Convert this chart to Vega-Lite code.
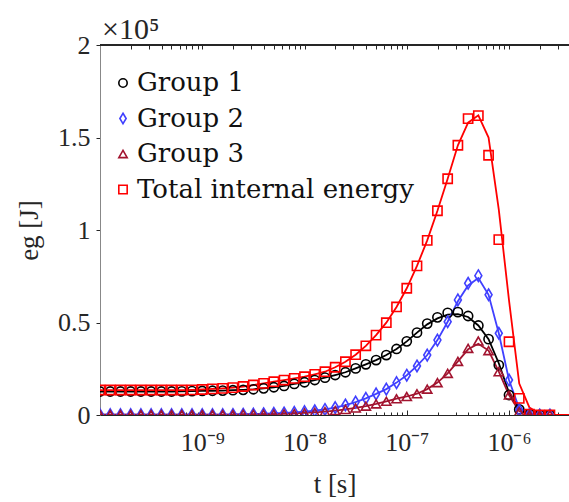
{
  "$schema": "https://vega.github.io/schema/vega-lite/v6.json",
  "width": 469,
  "height": 370,
  "autosize": {"type": "none"},
  "padding": {"left": 100, "top": 45, "right": 0, "bottom": 87},
  "background": "white",
  "title": {"text": "×10⁵", "anchor": "start", "frame": "group", "fontSize": 30, "font": "Liberation Serif", "fontWeight": "normal", "offset": -13, "dx": 2, "color": "#262626"},
  "config": {
    "view": {"stroke": null},
    "font": "Liberation Serif",
    "axis": {"grid": false, "labelFont": "Liberation Serif", "titleFont": "Liberation Serif", "labelFontSize": 26, "titleFontSize": 27, "titleFontWeight": "normal", "labelColor": "#262626", "titleColor": "#262626", "tickColor": "#262626", "domainColor": "#262626"}
  },
  "datasets": {
    "series": [
      {"t":1e-10,"g":"Group 1","m":12700,"l":12700},
      {"t":1.259e-10,"g":"Group 1","m":12700,"l":12700},
      {"t":1.585e-10,"g":"Group 1","m":12700,"l":12700},
      {"t":1.995e-10,"g":"Group 1","m":12700,"l":12700},
      {"t":2.512e-10,"g":"Group 1","m":12700,"l":12700},
      {"t":3.162e-10,"g":"Group 1","m":12700,"l":12700},
      {"t":3.981e-10,"g":"Group 1","m":12700,"l":12700},
      {"t":5.012e-10,"g":"Group 1","m":12700,"l":12700},
      {"t":6.31e-10,"g":"Group 1","m":12800,"l":12800},
      {"t":7.943e-10,"g":"Group 1","m":12900,"l":12900},
      {"t":1e-9,"g":"Group 1","m":13000,"l":13000},
      {"t":1.259e-9,"g":"Group 1","m":13100,"l":13100},
      {"t":1.585e-9,"g":"Group 1","m":13200,"l":13200},
      {"t":1.995e-9,"g":"Group 1","m":13400,"l":13400},
      {"t":2.512e-9,"g":"Group 1","m":13600,"l":13600},
      {"t":3.162e-9,"g":"Group 1","m":13900,"l":13900},
      {"t":3.981e-9,"g":"Group 1","m":14400,"l":14400},
      {"t":5.012e-9,"g":"Group 1","m":15000,"l":15000},
      {"t":6.31e-9,"g":"Group 1","m":15700,"l":15700},
      {"t":7.943e-9,"g":"Group 1","m":16800,"l":16800},
      {"t":1e-8,"g":"Group 1","m":17700,"l":17700},
      {"t":1.259e-8,"g":"Group 1","m":18900,"l":18900},
      {"t":1.585e-8,"g":"Group 1","m":20200,"l":20200},
      {"t":1.995e-8,"g":"Group 1","m":21600,"l":21600},
      {"t":2.512e-8,"g":"Group 1","m":23100,"l":23100},
      {"t":3.162e-8,"g":"Group 1","m":25200,"l":25200},
      {"t":3.981e-8,"g":"Group 1","m":27400,"l":27400},
      {"t":5.012e-8,"g":"Group 1","m":29700,"l":29700},
      {"t":6.31e-8,"g":"Group 1","m":32400,"l":32400},
      {"t":7.943e-8,"g":"Group 1","m":35700,"l":35700},
      {"t":1e-7,"g":"Group 1","m":39800,"l":39800},
      {"t":1.259e-7,"g":"Group 1","m":44500,"l":44500},
      {"t":1.585e-7,"g":"Group 1","m":49400,"l":49000},
      {"t":1.995e-7,"g":"Group 1","m":52800,"l":52200},
      {"t":2.512e-7,"g":"Group 1","m":55200,"l":54300},
      {"t":3.162e-7,"g":"Group 1","m":55600,"l":54500},
      {"t":3.981e-7,"g":"Group 1","m":53500,"l":53000},
      {"t":5.012e-7,"g":"Group 1","m":48400,"l":48400},
      {"t":6.31e-7,"g":"Group 1","m":41000,"l":41000},
      {"t":7.943e-7,"g":"Group 1","m":27000,"l":28000},
      {"t":1e-6,"g":"Group 1","m":10800,"l":12000},
      {"t":1.259e-6,"g":"Group 1","m":3000,"l":3500},
      {"t":1.585e-6,"g":"Group 1","m":500,"l":600},
      {"t":1.995e-6,"g":"Group 1","m":100,"l":100},
      {"t":2.512e-6,"g":"Group 1","m":0,"l":0},
      {"t":3.86e-6,"g":"Group 1","m":null,"l":0},

      {"t":1e-10,"g":"Group 2","m":200,"l":200},
      {"t":1.259e-10,"g":"Group 2","m":200,"l":200},
      {"t":1.585e-10,"g":"Group 2","m":200,"l":200},
      {"t":1.995e-10,"g":"Group 2","m":200,"l":200},
      {"t":2.512e-10,"g":"Group 2","m":200,"l":200},
      {"t":3.162e-10,"g":"Group 2","m":200,"l":200},
      {"t":3.981e-10,"g":"Group 2","m":200,"l":200},
      {"t":5.012e-10,"g":"Group 2","m":200,"l":200},
      {"t":6.31e-10,"g":"Group 2","m":200,"l":200},
      {"t":7.943e-10,"g":"Group 2","m":200,"l":200},
      {"t":1e-9,"g":"Group 2","m":200,"l":200},
      {"t":1.259e-9,"g":"Group 2","m":200,"l":200},
      {"t":1.585e-9,"g":"Group 2","m":200,"l":200},
      {"t":1.995e-9,"g":"Group 2","m":300,"l":300},
      {"t":2.512e-9,"g":"Group 2","m":400,"l":400},
      {"t":3.162e-9,"g":"Group 2","m":500,"l":500},
      {"t":3.981e-9,"g":"Group 2","m":700,"l":700},
      {"t":5.012e-9,"g":"Group 2","m":900,"l":900},
      {"t":6.31e-9,"g":"Group 2","m":1100,"l":1100},
      {"t":7.943e-9,"g":"Group 2","m":1400,"l":1400},
      {"t":1e-8,"g":"Group 2","m":1800,"l":1800},
      {"t":1.259e-8,"g":"Group 2","m":2300,"l":2300},
      {"t":1.585e-8,"g":"Group 2","m":3000,"l":3000},
      {"t":1.995e-8,"g":"Group 2","m":4000,"l":4000},
      {"t":2.512e-8,"g":"Group 2","m":5400,"l":5400},
      {"t":3.162e-8,"g":"Group 2","m":7000,"l":7000},
      {"t":3.981e-8,"g":"Group 2","m":9000,"l":9000},
      {"t":5.012e-8,"g":"Group 2","m":11400,"l":11400},
      {"t":6.31e-8,"g":"Group 2","m":14000,"l":14000},
      {"t":7.943e-8,"g":"Group 2","m":17500,"l":17500},
      {"t":1e-7,"g":"Group 2","m":21500,"l":21500},
      {"t":1.259e-7,"g":"Group 2","m":26500,"l":26500},
      {"t":1.585e-7,"g":"Group 2","m":32400,"l":32400},
      {"t":1.995e-7,"g":"Group 2","m":40500,"l":40500},
      {"t":2.512e-7,"g":"Group 2","m":50400,"l":50400},
      {"t":3.162e-7,"g":"Group 2","m":62200,"l":61500},
      {"t":3.981e-7,"g":"Group 2","m":71200,"l":70000},
      {"t":5.012e-7,"g":"Group 2","m":75300,"l":74000},
      {"t":6.31e-7,"g":"Group 2","m":65000,"l":65000},
      {"t":7.943e-7,"g":"Group 2","m":44200,"l":44200},
      {"t":1e-6,"g":"Group 2","m":18900,"l":18900},
      {"t":1.259e-6,"g":"Group 2","m":2700,"l":3500},
      {"t":1.585e-6,"g":"Group 2","m":300,"l":500},
      {"t":1.995e-6,"g":"Group 2","m":0,"l":0},
      {"t":2.512e-6,"g":"Group 2","m":0,"l":0},
      {"t":3.86e-6,"g":"Group 2","m":null,"l":0},

      {"t":1e-10,"g":"Group 3","m":200,"l":200},
      {"t":1.259e-10,"g":"Group 3","m":200,"l":200},
      {"t":1.585e-10,"g":"Group 3","m":200,"l":200},
      {"t":1.995e-10,"g":"Group 3","m":200,"l":200},
      {"t":2.512e-10,"g":"Group 3","m":200,"l":200},
      {"t":3.162e-10,"g":"Group 3","m":200,"l":200},
      {"t":3.981e-10,"g":"Group 3","m":200,"l":200},
      {"t":5.012e-10,"g":"Group 3","m":200,"l":200},
      {"t":6.31e-10,"g":"Group 3","m":200,"l":200},
      {"t":7.943e-10,"g":"Group 3","m":200,"l":200},
      {"t":1e-9,"g":"Group 3","m":200,"l":200},
      {"t":1.259e-9,"g":"Group 3","m":200,"l":200},
      {"t":1.585e-9,"g":"Group 3","m":200,"l":200},
      {"t":1.995e-9,"g":"Group 3","m":200,"l":200},
      {"t":2.512e-9,"g":"Group 3","m":300,"l":300},
      {"t":3.162e-9,"g":"Group 3","m":300,"l":300},
      {"t":3.981e-9,"g":"Group 3","m":400,"l":400},
      {"t":5.012e-9,"g":"Group 3","m":500,"l":500},
      {"t":6.31e-9,"g":"Group 3","m":600,"l":600},
      {"t":7.943e-9,"g":"Group 3","m":800,"l":800},
      {"t":1e-8,"g":"Group 3","m":1100,"l":1100},
      {"t":1.259e-8,"g":"Group 3","m":1400,"l":1400},
      {"t":1.585e-8,"g":"Group 3","m":1800,"l":1800},
      {"t":1.995e-8,"g":"Group 3","m":2400,"l":2400},
      {"t":2.512e-8,"g":"Group 3","m":3000,"l":3000},
      {"t":3.162e-8,"g":"Group 3","m":3800,"l":3800},
      {"t":3.981e-8,"g":"Group 3","m":4800,"l":4800},
      {"t":5.012e-8,"g":"Group 3","m":6000,"l":6000},
      {"t":6.31e-8,"g":"Group 3","m":7400,"l":7400},
      {"t":7.943e-8,"g":"Group 3","m":8800,"l":8800},
      {"t":1e-7,"g":"Group 3","m":10000,"l":10000},
      {"t":1.259e-7,"g":"Group 3","m":11500,"l":11500},
      {"t":1.585e-7,"g":"Group 3","m":14000,"l":14000},
      {"t":1.995e-7,"g":"Group 3","m":17500,"l":17500},
      {"t":2.512e-7,"g":"Group 3","m":22500,"l":22500},
      {"t":3.162e-7,"g":"Group 3","m":29000,"l":29000},
      {"t":3.981e-7,"g":"Group 3","m":36000,"l":35500},
      {"t":5.012e-7,"g":"Group 3","m":40000,"l":38500},
      {"t":6.31e-7,"g":"Group 3","m":34800,"l":34800},
      {"t":7.943e-7,"g":"Group 3","m":23400,"l":23400},
      {"t":1e-6,"g":"Group 3","m":10800,"l":10800},
      {"t":1.259e-6,"g":"Group 3","m":1800,"l":2000},
      {"t":1.585e-6,"g":"Group 3","m":200,"l":300},
      {"t":1.995e-6,"g":"Group 3","m":0,"l":0},
      {"t":2.512e-6,"g":"Group 3","m":0,"l":0},
      {"t":3.86e-6,"g":"Group 3","m":null,"l":0},

      {"t":1e-10,"g":"Total internal energy","m":13500,"l":13500},
      {"t":1.259e-10,"g":"Total internal energy","m":13500,"l":13500},
      {"t":1.585e-10,"g":"Total internal energy","m":13500,"l":13500},
      {"t":1.995e-10,"g":"Total internal energy","m":13500,"l":13500},
      {"t":2.512e-10,"g":"Total internal energy","m":13500,"l":13500},
      {"t":3.162e-10,"g":"Total internal energy","m":13500,"l":13500},
      {"t":3.981e-10,"g":"Total internal energy","m":13500,"l":13500},
      {"t":5.012e-10,"g":"Total internal energy","m":13500,"l":13500},
      {"t":6.31e-10,"g":"Total internal energy","m":13500,"l":13500},
      {"t":7.943e-10,"g":"Total internal energy","m":13600,"l":13600},
      {"t":1e-9,"g":"Total internal energy","m":13800,"l":13800},
      {"t":1.259e-9,"g":"Total internal energy","m":14100,"l":14100},
      {"t":1.585e-9,"g":"Total internal energy","m":14400,"l":14400},
      {"t":1.995e-9,"g":"Total internal energy","m":14800,"l":14800},
      {"t":2.512e-9,"g":"Total internal energy","m":15400,"l":15400},
      {"t":3.162e-9,"g":"Total internal energy","m":16200,"l":16200},
      {"t":3.981e-9,"g":"Total internal energy","m":17100,"l":17100},
      {"t":5.012e-9,"g":"Total internal energy","m":18000,"l":18000},
      {"t":6.31e-9,"g":"Total internal energy","m":18900,"l":18900},
      {"t":7.943e-9,"g":"Total internal energy","m":19800,"l":19800},
      {"t":1e-8,"g":"Total internal energy","m":20700,"l":20700},
      {"t":1.259e-8,"g":"Total internal energy","m":22000,"l":22000},
      {"t":1.585e-8,"g":"Total internal energy","m":23400,"l":23400},
      {"t":1.995e-8,"g":"Total internal energy","m":25800,"l":25800},
      {"t":2.512e-8,"g":"Total internal energy","m":28800,"l":28800},
      {"t":3.162e-8,"g":"Total internal energy","m":32600,"l":32600},
      {"t":3.981e-8,"g":"Total internal energy","m":37400,"l":37400},
      {"t":5.012e-8,"g":"Total internal energy","m":43200,"l":43200},
      {"t":6.31e-8,"g":"Total internal energy","m":49900,"l":49900},
      {"t":7.943e-8,"g":"Total internal energy","m":58400,"l":58400},
      {"t":1e-7,"g":"Total internal energy","m":68500,"l":68500},
      {"t":1.259e-7,"g":"Total internal energy","m":80600,"l":80600},
      {"t":1.585e-7,"g":"Total internal energy","m":94400,"l":94400},
      {"t":1.995e-7,"g":"Total internal energy","m":110400,"l":110400},
      {"t":2.512e-7,"g":"Total internal energy","m":127700,"l":127700},
      {"t":3.162e-7,"g":"Total internal energy","m":145800,"l":145800},
      {"t":3.981e-7,"g":"Total internal energy","m":160200,"l":158000},
      {"t":5.012e-7,"g":"Total internal energy","m":161800,"l":162000},
      {"t":6.31e-7,"g":"Total internal energy","m":140400,"l":150000},
      {"t":7.943e-7,"g":"Total internal energy","m":94800,"l":111000},
      {"t":1e-6,"g":"Total internal energy","m":39600,"l":62000},
      {"t":1.259e-6,"g":"Total internal energy","m":9000,"l":17000},
      {"t":1.585e-6,"g":"Total internal energy","m":500,"l":4000},
      {"t":1.995e-6,"g":"Total internal energy","m":0,"l":500},
      {"t":2.512e-6,"g":"Total internal energy","m":0,"l":0},
      {"t":3.86e-6,"g":"Total internal energy","m":null,"l":0}
    ]
  },
  "data": {"name": "series"},
  "resolve": {"scale": {"x": "independent"}, "axis": {"x": "independent", "y": "independent"}, "legend": {"color": "independent", "shape": "independent"}},
  "layer": [
    {
      "mark": {"type": "line", "strokeWidth": 1.8, "clip": true},
      "encoding": {
        "x": {"field": "t", "type": "quantitative",
          "scale": {"type": "log", "domain": [1e-10, 3.86e-6], "nice": false},
          "axis": {"orient": "bottom", "title": "t [s]", "titlePadding": 16,
            "values": [1e-10,2e-10,3e-10,4e-10,5e-10,6e-10,7e-10,8e-10,9e-10,1e-9,2e-9,3e-9,4e-9,5e-9,6e-9,7e-9,8e-9,9e-9,1e-8,2e-8,3e-8,4e-8,5e-8,6e-8,7e-8,8e-8,9e-8,1e-7,2e-7,3e-7,4e-7,5e-7,6e-7,7e-7,8e-7,9e-7,1e-6,2e-6,3e-6],
            "tickSize": {"condition": {"test": "abs(log(datum.value)/LN10 - round(log(datum.value)/LN10)) < 0.01", "value": -5}, "value": -3},
            "labelPadding": 19,
            "labelExpr": "abs(log(datum.value)/LN10 - round(log(datum.value)/LN10)) > 0.01 ? '' : round(log(datum.value)/LN10) == -9 ? '10⁻⁹' : round(log(datum.value)/LN10) == -8 ? '10⁻⁸' : round(log(datum.value)/LN10) == -7 ? '10⁻⁷' : round(log(datum.value)/LN10) == -6 ? '10⁻⁶' : ''",
            "labelFlush": false}},
        "y": {"field": "l", "type": "quantitative",
          "scale": {"domain": [0, 200000], "nice": false},
          "axis": {"orient": "left", "title": "eg [J]", "titlePadding": 14, "values": [0, 50000, 100000, 150000, 200000], "labelExpr": "datum.value/1e5 + ''", "tickSize": 4, "labelPadding": 6, "domainColor": "#888888", "labelFlush": false}},
        "color": {"field": "g", "type": "nominal", "legend": null,
          "scale": {"domain": ["Group 1", "Group 2", "Group 3", "Total internal energy"], "range": ["#000000", "#4040ff", "#a2142f", "#ff0000"]}},
        "detail": {"field": "g"}
      }
    },
    {
      "mark": {"type": "point", "filled": false, "strokeWidth": 1.6, "size": 85, "opacity": 1, "clip": true},
      "encoding": {
        "x": {"field": "t", "type": "quantitative",
          "scale": {"type": "log", "domain": [1e-10, 3.86e-6], "nice": false},
          "axis": {"orient": "top", "title": null, "labels": false, "tickSize": -4,
            "values": [1e-10,2e-10,3e-10,4e-10,5e-10,6e-10,7e-10,8e-10,9e-10,1e-9,2e-9,3e-9,4e-9,5e-9,6e-9,7e-9,8e-9,9e-9,1e-8,2e-8,3e-8,4e-8,5e-8,6e-8,7e-8,8e-8,9e-8,1e-7,2e-7,3e-7,4e-7,5e-7,6e-7,7e-7,8e-7,9e-7,1e-6,2e-6,3e-6]}},
        "y": {"field": "m", "type": "quantitative", "scale": {"domain": [0, 200000], "nice": false}, "axis": null},
        "color": {"field": "g", "type": "nominal",
          "scale": {"domain": ["Group 1", "Group 2", "Group 3", "Total internal energy"], "range": ["#000000", "#4040ff", "#a2142f", "#ff0000"]},
          "legend": {"title": null, "orient": "none", "legendX": 10, "legendY": 25, "padding": 0, "labelFont": "DejaVu Serif", "labelFontSize": 26, "labelColor": "#111111", "symbolStrokeWidth": 1.6, "symbolSize": 70, "rowPadding": 9.5, "labelOffset": 1, "labelLimit": 450}},
        "shape": {"field": "g", "type": "nominal",
          "scale": {"domain": ["Group 1", "Group 2", "Group 3", "Total internal energy"], "range": ["circle", "M0,-1.25L0.75,0L0,1.25L-0.75,0Z", "triangle-up", "square"]},
          "legend": {"title": null, "orient": "none", "legendX": 10, "legendY": 25, "padding": 0, "labelFont": "DejaVu Serif", "labelFontSize": 26, "labelColor": "#111111", "symbolStrokeWidth": 1.6, "symbolSize": 70, "rowPadding": 9.5, "labelOffset": 1, "labelLimit": 450}}
      }
    },
    {
      "mark": {"type": "rule", "color": "#262626", "strokeWidth": 1.2},
      "encoding": {
        "y": {"datum": 200000, "type": "quantitative", "scale": {"domain": [0, 200000], "nice": false}, "axis": null}
      }
    }
  ]
}
